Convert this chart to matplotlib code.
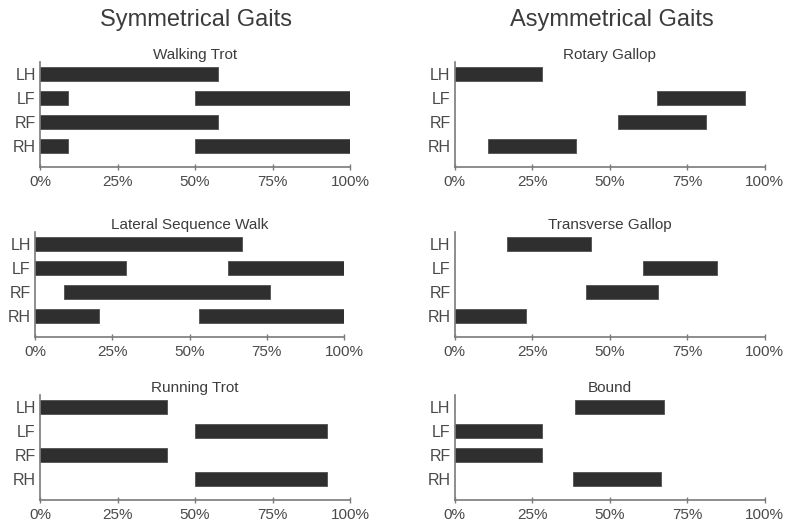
import matplotlib
matplotlib.use('Agg')
import matplotlib.pyplot as plt
from matplotlib.ticker import FuncFormatter

plt.rcParams['font.family'] = ['Liberation Sans', 'DejaVu Sans']

limbs = ['LH', 'LF', 'RF', 'RH']

# stance phases (% of stride) for each limb, in the order of `limbs`
walking_trot = [[(0, 57.5)], [(0, 9), (50, 100)], [(0, 57.5)], [(0, 9), (50, 100)]]
lateral_walk = [[(0, 67)], [(0, 29.6), (62.6, 100)], [(9.4, 76)], [(0, 20.7), (53, 100)]]
running_trot = [[(0, 41)], [(50, 92.5)], [(0, 41)], [(50, 92.5)]]
rotary_gallop = [[(0, 28.3)], [(65.3, 93.7)], [(52.7, 81.2)], [(10.9, 39.2)]]
transverse_gallop = [[(16.9, 43.9)], [(60.6, 84.6)], [(42.3, 65.7)], [(0, 22.9)]]
bound = [[(38.7, 67.4)], [(0, 28.3)], [(0, 28.3)], [(38, 66.5)]]

gait_titles = ['Walking Trot', 'Lateral Sequence Walk', 'Running Trot',
               'Rotary Gallop', 'Transverse Gallop', 'Bound']
gait_data = [walking_trot, lateral_walk, running_trot,
             rotary_gallop, transverse_gallop, bound]
xticks = [0, 25, 50, 75, 100]

W, H = 786, 526
fig = plt.figure(figsize=(W / 100, H / 100), dpi=100)

# axes boxes in pixels: left, x-axis line (from top), width
boxes = [(40, 167, 310), (35, 337, 309), (40, 500, 310),
         (454.7, 167, 310), (454.7, 337, 310), (454.7, 500, 310)]
ax_h = 105

text_col = '#4a4a4a'
spine_col = '#7a7a7a'

for (left, base, width), title, data in zip(boxes, gait_titles, gait_data):
    ax = fig.add_axes([left / W, (H - base) / H, width / W, ax_h / H])
    for i, segs in enumerate(data):
        y = len(limbs) - 1 - i
        for start, end in segs:
            ax.barh(y, end - start, left=start, height=0.55,
                    color='#2f2f2f', edgecolor='#5a5a5a', linewidth=0.7)
    ax.set_xlim(0, 100)
    ax.set_ylim(-0.875, 3.5)
    ax.set_yticks(range(len(limbs)))
    ax.set_yticklabels(limbs[::-1])
    ax.set_xticks(xticks)
    ax.xaxis.set_major_formatter(FuncFormatter(lambda v, p: f'{int(v)}%'))
    ax.tick_params(axis='y', length=0, pad=3, labelsize=11.5, labelcolor=text_col)
    ax.tick_params(axis='x', direction='inout', length=5, width=1, color=spine_col,
                   pad=3, labelsize=11, labelcolor=text_col)
    for s in ['top', 'right']:
        ax.spines[s].set_visible(False)
    for s in ['left', 'bottom']:
        ax.spines[s].set_color(spine_col)
        ax.spines[s].set_linewidth(1.2)
    ax.set_title(title, fontsize=11, color='#3c3c3c', pad=1)

fig.text(196 / W, 1 - 20 / H, 'Symmetrical Gaits', fontsize=17, color='#3c3c3c',
         ha='center', va='center')
fig.text(612 / W, 1 - 20 / H, 'Asymmetrical Gaits', fontsize=17, color='#3c3c3c',
         ha='center', va='center')

fig.savefig('out.png', dpi=100, facecolor='white')
